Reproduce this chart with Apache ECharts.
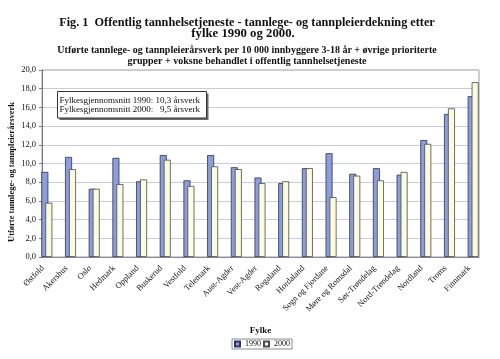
<!DOCTYPE html>
<html>
<head>
<meta charset="utf-8">
<script src="https://cdn.jsdelivr.net/npm/echarts@6/dist/echarts.min.js"></script>
<style>
html,body{margin:0;padding:0;background:#fff;}
#c{width:500px;height:359px;}
</style>
</head>
<body>
<div id="c"></div>
<script>
const categories = ['Østfold','Akershus','Oslo','Hedmark','Oppland','Buskerud','Vestfold','Telemark','Aust-Agder','Vest-Agder','Rogaland','Hordaland','Sogn og Fjordane','Møre og Romsdal','Sør-Trøndelag','Nord-Trøndelag','Nordland','Troms','Finnmark'];
const values1990 = [9.1, 10.7, 7.3, 10.6, 8.1, 10.9, 8.2, 10.9, 9.6, 8.5, 7.9, 9.5, 11.1, 8.9, 9.5, 8.8, 12.5, 15.3, 17.2];
const values2000 = [5.8, 9.4, 7.3, 7.8, 8.3, 10.4, 7.6, 9.7, 9.4, 7.9, 8.1, 9.5, 6.4, 8.7, 8.2, 9.1, 12.1, 15.9, 18.7];
const seriesNames = ['1990', '2000'];
const yMin = 0, yMax = 20, yStep = 2;

const titleLines = ['Fig. 1  Offentlig tannhelsetjeneste - tannlege- og tannpleierdekning etter', 'fylke 1990 og 2000.'];
const subtitleLines = ['Utførte tannlege- og tannpleierårsverk per 10 000 innbyggere 3-18 år + øvrige prioriterte', 'grupper + voksne behandlet i offentlig tannhelsetjeneste'];
const yName = 'Utførte tannlege- og tannpleierårsverk';
const xName = 'Fylke';
const noteLines = ['Fylkesgjennomsnitt 1990: 10,3 årsverk', 'Fylkesgjennomsnitt 2000:   9,5 årsverk'];

const SERIF = "'Liberation Serif','DejaVu Serif',serif";
const chart = echarts.init(document.getElementById('c'), null, {renderer: 'canvas'});

const hiddenY = (i) => ({gridIndex: i, type: 'value', min: yMin, max: yMax, interval: yStep, show: false});

chart.setOption({
  animation: false,
  backgroundColor: '#fff',
  grid: [
    {left: 42, right: 21, top: 70, bottom: 102, show: true, borderColor: '#9a9aa8', borderWidth: 1, containLabel: false},
    {left: 35, right: 15, top: 70, bottom: 102, containLabel: false},
    {left: 31, right: 19, top: 70, bottom: 102, containLabel: false}
  ],
  xAxis: [
    {gridIndex: 0, type: 'category', data: categories, axisLabel: {show: false}, axisTick: {show: false},
     axisLine: {lineStyle: {color: '#8a8a98', width: 1}},
     name: xName, nameLocation: 'middle', nameGap: 69,
     nameTextStyle: {fontFamily: SERIF, fontWeight: 'bold', fontSize: 9, color: '#111'}},
    {gridIndex: 1, type: 'category', data: categories, show: false},
    {gridIndex: 2, type: 'category', data: categories, axisLine: {show: false}, axisTick: {show: false},
     axisLabel: {rotate: 45, interval: 0, fontFamily: SERIF, fontSize: 8.5, color: '#111', margin: 10}}
  ],
  yAxis: [
    {gridIndex: 0, type: 'value', min: yMin, max: yMax, interval: yStep,
     axisLine: {show: true, lineStyle: {color: '#7a7a8a', width: 1}},
     axisTick: {show: true, length: 3, lineStyle: {color: '#7a7a8a'}},
     axisLabel: {fontFamily: SERIF, fontSize: 8.5, color: '#111', margin: 6,
       formatter: v => v.toFixed(1).replace('.', ',')},
     splitLine: {show: true, lineStyle: {color: '#c9cbe0', width: 1}}},
    hiddenY(1),
    hiddenY(2)
  ],
  legend: {
    data: seriesNames, left: 232, top: 339, orient: 'horizontal',
    itemWidth: 5, itemHeight: 5, itemGap: 2, padding: [1, 2, 1, 2],
    borderColor: '#8a8aa0', borderWidth: 1, icon: 'rect',
    textStyle: {fontFamily: SERIF, fontSize: 8, color: '#111'}
  },
  series: [
    {name: seriesNames[0], type: 'bar', xAxisIndex: 1, yAxisIndex: 1, data: values1990,
     barWidth: 7, barGap: '-43%',
     itemStyle: {color: '#8d9dd5', borderColor: '#2d3260', borderWidth: 0.8}},
    {name: seriesNames[1], type: 'bar', xAxisIndex: 1, yAxisIndex: 1, data: values2000,
     barWidth: 7, barGap: '-43%',
     itemStyle: {color: '#fbfbdf', borderColor: '#4a4a4a', borderWidth: 0.8}}
  ],
  graphic: [
    {type: 'text', x: 247, y: 22.5, scaleX: 0.98, style: {text: titleLines[0], font: "bold 12.5px " + SERIF, fill: '#111', textAlign: 'center', textVerticalAlign: 'middle'}},
    {type: 'text', x: 243, y: 34, scaleX: 1.02, style: {text: titleLines[1], font: "bold 12.5px " + SERIF, fill: '#111', textAlign: 'center', textVerticalAlign: 'middle'}},
    {type: 'text', x: 247, y: 50, scaleX: 1.0, style: {text: subtitleLines[0], font: "bold 10px " + SERIF, fill: '#111', textAlign: 'center', textVerticalAlign: 'middle'}},
    {type: 'text', x: 247, y: 61, scaleX: 1.0, style: {text: subtitleLines[1], font: "bold 10px " + SERIF, fill: '#111', textAlign: 'center', textVerticalAlign: 'middle'}},
    {type: 'text', x: 12, y: 172, rotation: Math.PI / 2, style: {text: yName, font: "bold 8.5px " + SERIF, fill: '#111', textAlign: 'center', textVerticalAlign: 'middle'}},
    {type: 'rect', shape: {x: 59.5, y: 93.5, width: 149, height: 26.5}, style: {fill: '#6a6a6a'}, z: 100},
    {type: 'rect', shape: {x: 57.5, y: 91.5, width: 149, height: 26.5}, style: {fill: '#fff', stroke: '#333', lineWidth: 1}, z: 101},
    {type: 'text', x: 59.5, y: 100.5, z: 102, style: {text: noteLines[0], font: "9px " + SERIF, fill: '#111', textAlign: 'left', textVerticalAlign: 'middle'}},
    {type: 'text', x: 59.5, y: 110, z: 102, style: {text: noteLines[1], font: "9px " + SERIF, fill: '#111', textAlign: 'left', textVerticalAlign: 'middle'}}
  ]
});
</script>
</body>
</html>
